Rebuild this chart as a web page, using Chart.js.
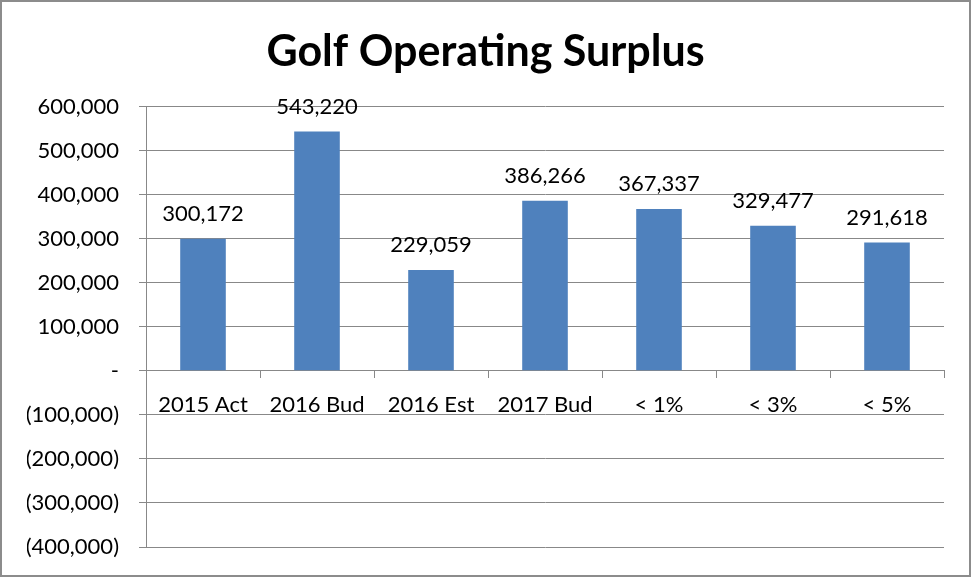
<!DOCTYPE html>
<html>
<head>
<meta charset="utf-8">
<script src="https://cdn.jsdelivr.net/npm/chart.js@4"></script>
<style>
  html, body { margin: 0; padding: 0; background: #fff; }
  #wrap {
    width: 971px;
    height: 577px;
    box-sizing: border-box;
    border: 2px solid #8c8c8c;
    position: relative;
  }
  canvas { display: block; }
</style>
</head>
<body>
<div id="wrap"><canvas id="chart" width="967" height="573"></canvas></div>
<script>
const categories = ["2015 Act", "2016 Bud", "2016 Est", "2017 Bud", "< 1%", "< 3%", "< 5%"];
const surplus = [300172, 543220, 229059, 386266, 367337, 329477, 291618];
const yMin = -400000;
const yMax = 600000;
const yStep = 100000;

const FONT = "Lato, 'Open Sans', sans-serif";

function fmt(v) {
  if (v === 0) return "-";
  const s = Math.abs(v).toLocaleString("en-US");
  return v < 0 ? "(" + s + ")" : s;
}

// labels above each bar
const valueLabels = {
  id: "valueLabels",
  afterDatasetsDraw(chart) {
    const ctx = chart.ctx;
    const meta = chart.getDatasetMeta(0);
    ctx.save();
    ctx.font = "22px " + FONT;
    ctx.fillStyle = "#000";
    ctx.textAlign = "center";
    ctx.textBaseline = "bottom";
    meta.data.forEach((bar, i) => {
      ctx.fillText(fmt(surplus[i]), bar.x, bar.y - 14);
    });
    ctx.restore();
  },
};

new Chart(document.getElementById("chart"), {
  type: "bar",
  data: {
    labels: categories,
    datasets: [
      {
        data: surplus,
        backgroundColor: "#4f81bd",
        categoryPercentage: 1,
        barPercentage: 0.4,
      },
    ],
  },
  options: {
    responsive: false,
    animation: false,
    // same padding both sides so the title stays centred on the canvas
    layout: { padding: { left: 25, right: 25, bottom: 28, top: 0 } },
    scales: {
      x: {
        position: { y: 0 },
        grid: {
          display: true,
          drawOnChartArea: false,
          drawTicks: true,
          tickLength: 7,
          color: "#888",
        },
        border: { display: true, color: "#888", width: 1 },
        ticks: {
          color: "#000",
          padding: 14,
          font: { family: FONT, size: 22 },
          maxRotation: 0,
        },
        afterFit(scale) {
          scale.height = 0;
        },
      },
      y: {
        min: yMin,
        max: yMax,
        grid: { color: "#888", tickLength: 7 },
        border: { display: true, color: "#888", width: 1 },
        ticks: {
          stepSize: yStep,
          color: "#000",
          padding: 20,
          font: { family: FONT, size: 22 },
          callback: (v) => fmt(v),
        },
        afterFit(scale) {
          scale.width = 119;
          scale.paddingTop = 0;
          scale.paddingBottom = 0;
        },
      },
    },
    plugins: {
      legend: { display: false },
      tooltip: { enabled: false },
      title: {
        display: true,
        text: "Golf Operating Surplus",
        color: "#000",
        font: { family: FONT, size: 43, weight: "bold" },
        padding: { top: 24, bottom: 29 },
      },
    },
  },
  plugins: [valueLabels],
});
</script>
</body>
</html>
